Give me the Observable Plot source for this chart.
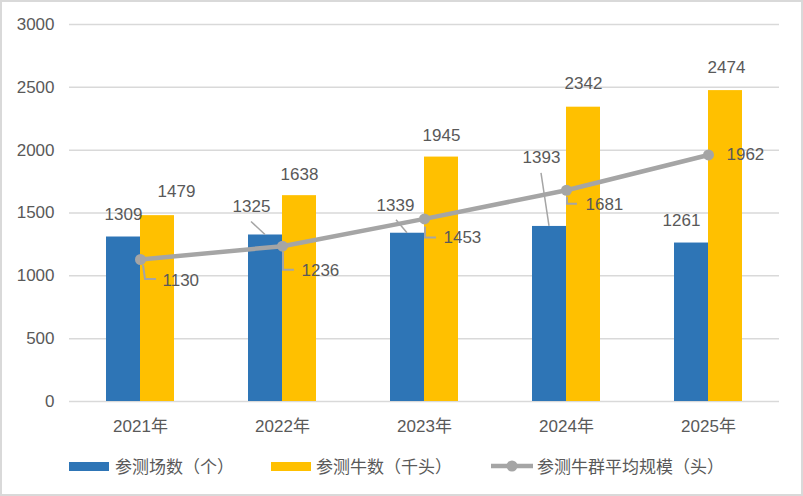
<!DOCTYPE html>
<html>
<head>
<meta charset="utf-8">
<script src="https://cdn.jsdelivr.net/npm/d3@7"></script>
<script src="https://cdn.jsdelivr.net/npm/@observablehq/plot@0.6"></script>
<style>
  html, body { margin: 0; padding: 0; background: #fff; }
  #wrap { position: relative; width: 803px; height: 496px; overflow: hidden; background: #fff; }
  #frame { position: absolute; left: 0; top: 0; width: 803px; height: 496px; box-sizing: border-box; border: 2px solid #D9D9D9; pointer-events: none; }
  #chart { position: absolute; left: 0; top: 0; }
  .lg { position: absolute; font-family: "Noto Sans CJK SC", "Liberation Sans", sans-serif; font-size: 17px; color: #595959; line-height: 20px; top: 456px; }
  .sw { position: absolute; }
</style>
</head>
<body>
<div id="wrap">
  <div id="chart"></div>
  <div id="legend"></div>
  <div id="frame"></div>
</div>
<script>
// ---- data ----
const years = ["2021年", "2022年", "2023年", "2024年", "2025年"];
const farms = [1309, 1325, 1339, 1393, 1261];        // 参测场数（个）
const cattle = [1479, 1638, 1945, 2342, 2474];       // 参测牛数（千头）
const avgHerd = [1130, 1236, 1453, 1681, 1962];      // 参测牛群平均规模（头）
const yTicks = [0, 500, 1000, 1500, 2000, 2500, 3000];
const seriesNames = ["参测场数（个）", "参测牛数（千头）", "参测牛群平均规模（头）"];
const colors = ["#2E75B6", "#FFC000", "#A5A5A5"];

// ---- label layout (pixel offsets from anchor) ----
const farmLabelOff = [[0, -22], [-14, -28], [-12, -28], [-8, -69], [-10, -22]];
const farmLeader = [null, [[-14, -13], [0, 0]], [[-11, -13], [0, 0]], [[-8, -53], [0, 0]], null];
const cattleLabelOff = [[19, -24], [0, -21], [0, -22], [0, -24], [1, -23]];
const avgLabelOff = [[22, 21], [19, 24], [19, 19], [19, 14], [18, 0]];
const avgLeader = [
  [[3, 6], [5, 20], [16, 20]],
  [[1, 6], [1, 24], [12, 24]],
  [[1, 8], [1, 19], [12, 19]],
  [[1, 7], [1, 14], [11, 14]],
  null
];

const rows = years.map((y, i) => ({year: y, farms: farms[i], cattle: cattle[i], avg: avgHerd[i], i}));
const font = '"Liberation Sans", "Noto Sans CJK SC", Arial, sans-serif';
const half = 17; // bar width

const textMarks = [];
rows.forEach((d, i) => {
  textMarks.push(Plot.text([d], {x: "year", y: "farms", text: d => String(d.farms),
    dx: -half + farmLabelOff[i][0], dy: farmLabelOff[i][1], fill: "#595959", fontSize: 17}));
  textMarks.push(Plot.text([d], {x: "year", y: "cattle", text: d => String(d.cattle),
    dx: half + cattleLabelOff[i][0], dy: cattleLabelOff[i][1], fill: "#595959", fontSize: 17}));
  textMarks.push(Plot.text([d], {x: "year", y: "avg", text: d => String(d.avg),
    dx: avgLabelOff[i][0], dy: avgLabelOff[i][1], textAnchor: "start", fill: "#595959", fontSize: 17}));
});

function leaderMark(index, scales) {
  const xs = scales.x, ys = scales.y;
  const bw = Math.abs(xs(years[1]) - xs(years[0]));
  const g = d3.create("svg:g").attr("fill", "none").attr("stroke", "#A5A5A5").attr("stroke-width", 1.5);
  rows.forEach((d, i) => {
    const cx = xs(d.year) + bw / 2;
    if (farmLeader[i]) {
      const ax = cx - half, ay = ys(d.farms);
      g.append("path").attr("d", d3.line()(farmLeader[i].map(([a, b]) => [ax + a, ay + b])));
    }
    if (avgLeader[i]) {
      const ay = ys(d.avg);
      g.append("path").attr("stroke-width", 2).attr("d", d3.line()(avgLeader[i].map(([a, b]) => [cx + a, ay + b])));
    }
  });
  return g.node();
}

const chart = Plot.plot({
  width: 803,
  height: 440,
  marginLeft: 69,
  marginRight: 24,
  marginTop: 24,
  marginBottom: 39,
  style: {fontFamily: font, fontSize: "17px", color: "#595959", background: "transparent"},
  x: {type: "band", domain: years, padding: 0, label: null, tickSize: 0, tickPadding: 18},
  y: {domain: [0, 3000], ticks: yTicks, tickFormat: d => String(d), label: null, tickSize: 0, tickPadding: 15},
  marks: [
    Plot.ruleY(yTicks, {stroke: "#D9D9D9", strokeWidth: 1.5}),
    Plot.barY(rows, {x: "year", y: "farms", fill: colors[0], insetLeft: 37, insetRight: 71}),
    Plot.barY(rows, {x: "year", y: "cattle", fill: colors[1], insetLeft: 71, insetRight: 37}),
    Plot.line(rows, {x: "year", y: "avg", stroke: colors[2], strokeWidth: 4.5}),
    Plot.dot(rows, {x: "year", y: "avg", fill: colors[2], r: 5.5}),
    leaderMark,
    ...textMarks
  ]
});
document.getElementById("chart").appendChild(chart);

// ---- legend (HTML below the SVG) ----
const legend = document.getElementById("legend");
const items = [
  {kind: "rect", x: 69, tx: 115},
  {kind: "rect", x: 271, tx: 316},
  {kind: "line", x: 490, tx: 537}
];
items.forEach((it, i) => {
  if (it.kind === "rect") {
    const s = document.createElement("div");
    s.className = "sw";
    Object.assign(s.style, {left: it.x + "px", top: "462px", width: "40px", height: "9px", background: colors[i]});
    legend.appendChild(s);
  } else {
    const s = document.createElementNS("http://www.w3.org/2000/svg", "svg");
    s.setAttribute("width", 44); s.setAttribute("height", 14);
    s.style.position = "absolute"; s.style.left = it.x + "px"; s.style.top = "459px";
    s.innerHTML = `<line x1="1" y1="7" x2="43" y2="7" stroke="${colors[2]}" stroke-width="4.5"/><circle cx="22" cy="7" r="5.5" fill="${colors[2]}"/>`;
    legend.appendChild(s);
  }
  const t = document.createElement("div");
  t.className = "lg";
  t.style.left = it.tx + "px";
  t.textContent = seriesNames[i];
  legend.appendChild(t);
});
</script>
</body>
</html>
